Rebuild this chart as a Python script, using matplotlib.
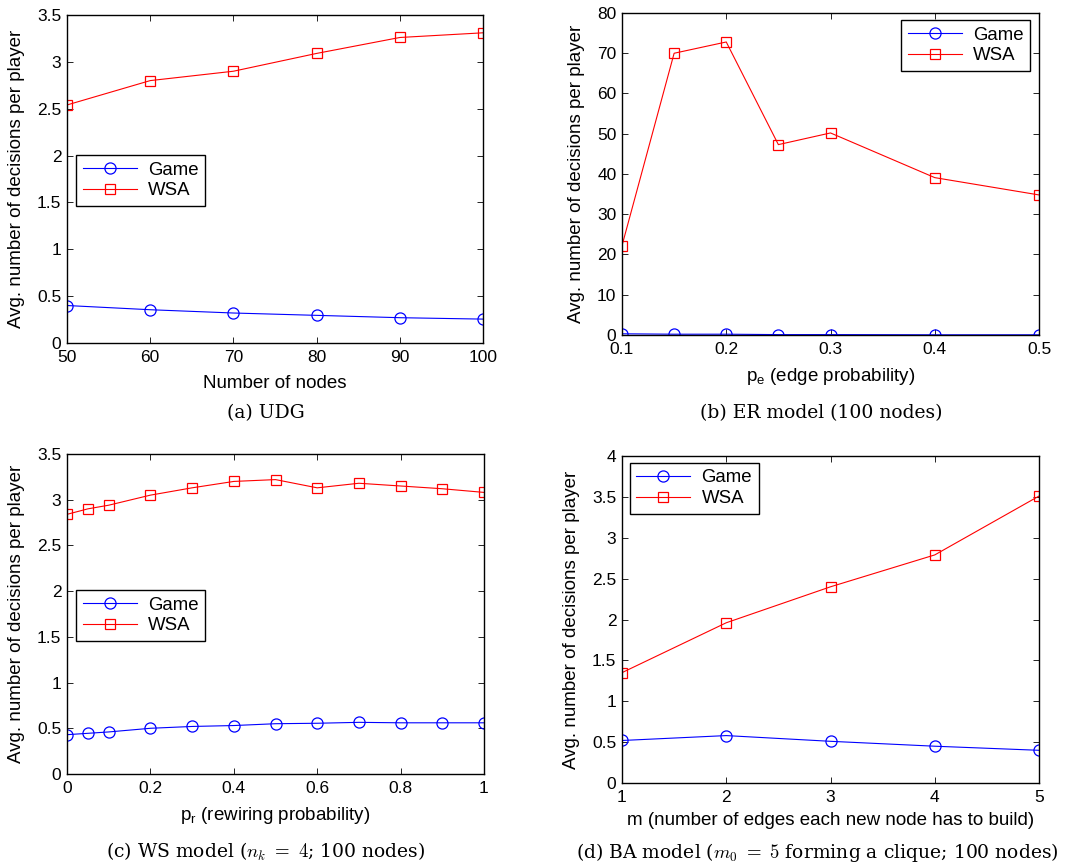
import matplotlib
matplotlib.use('Agg')
import matplotlib.pyplot as plt

plt.rcParams['font.family'] = ['Liberation Sans', 'DejaVu Sans']
plt.rcParams['mathtext.fontset'] = 'cm'
plt.rcParams['xtick.direction'] = 'in'
plt.rcParams['ytick.direction'] = 'in'
plt.rcParams['xtick.top'] = True
plt.rcParams['ytick.right'] = True

# (a) UDG
udg_x = [50, 60, 70, 80, 90, 100]
udg_game = [0.40, 0.355, 0.32, 0.295, 0.27, 0.255]
udg_wsa = [2.54, 2.80, 2.90, 3.09, 3.26, 3.31]

# (b) ER model
er_x = [0.1, 0.15, 0.2, 0.25, 0.3, 0.4, 0.5]
er_game = [0.3, 0.2, 0.2, 0.1, 0.1, 0.05, 0.05]
er_wsa = [22.2, 70.0, 72.8, 47.3, 50.2, 39.1, 34.8]

# (c) WS model
ws_x = [0, 0.05, 0.1, 0.2, 0.3, 0.4, 0.5, 0.6, 0.7, 0.8, 0.9, 1.0]
ws_game = [0.43, 0.445, 0.46, 0.50, 0.52, 0.53, 0.55, 0.555, 0.565, 0.56, 0.56, 0.56]
ws_wsa = [2.84, 2.90, 2.94, 3.05, 3.13, 3.20, 3.22, 3.13, 3.18, 3.15, 3.12, 3.08]

# (d) BA model
ba_x = [1, 2, 3, 4, 5]
ba_game = [0.52, 0.58, 0.51, 0.45, 0.40]
ba_wsa = [1.35, 1.96, 2.40, 2.79, 3.51]

W, H = 1066, 867
fig = plt.figure(figsize=(W / 100, H / 100), dpi=100)


def px_axes(l, t, r, b):
    return fig.add_axes([l / W, (H - b) / H, (r - l) / W, (b - t) / H])


def draw(ax, x, game, wsa, xlabel, xticks, yticks, ylim, loc, anchor, xlabel_y, ylabel_x):
    ax.plot(x, game, color='blue', marker='o', markersize=8, mfc='none',
            mew=0.9, lw=0.8, label='Game')
    ax.plot(x, wsa, color='red', marker='s', markersize=7.5, mfc='none',
            mew=0.9, lw=0.8, label='WSA')
    ax.set_xlim(x[0], x[-1])
    ax.set_ylim(*ylim)
    ax.set_xticks(xticks)
    ax.set_yticks(yticks)
    ax.set_xticklabels([('%g' % v) for v in xticks])
    ax.set_yticklabels([('%g' % v) for v in yticks])
    ax.tick_params(labelsize=12.5, length=4, width=0.6)
    ax.tick_params(axis='x', pad=5)
    ax.tick_params(axis='y', pad=4)
    for s in ax.spines.values():
        s.set_linewidth(1.0)
    ax.set_xlabel(xlabel, fontsize=13.5)
    ax.xaxis.set_label_coords(0.5, xlabel_y)
    ax.set_ylabel('Avg. number of decisions per player', fontsize=13.5)
    ax.yaxis.set_label_coords(ylabel_x, 0.5)
    leg = ax.legend(loc=loc, bbox_to_anchor=anchor, borderaxespad=0,
                    fontsize=13.4, handlelength=2.9,
                    fancybox=False, framealpha=1, edgecolor='black',
                    borderpad=0.35, labelspacing=0.2, handletextpad=0.6)
    leg.get_frame().set_linewidth(1.0)
    return ax


ax1 = px_axes(67, 15, 483, 343)
draw(ax1, udg_x, udg_game, udg_wsa, 'Number of nodes',
     [50, 60, 70, 80, 90, 100], [0, 0.5, 1, 1.5, 2, 2.5, 3, 3.5], (0, 3.5),
     'lower left', (0.022, 0.418), -0.098, -0.101)

ax2 = px_axes(622, 13, 1039, 335)
draw(ax2, er_x, er_game, er_wsa, r'$\mathregular{p_e}$ (edge probability)',
     [0.1, 0.2, 0.3, 0.4, 0.5], list(range(0, 81, 10)), (0, 80),
     'upper right', (0.978, 0.978), -0.095, -0.089)

ax3 = px_axes(67, 454, 484, 774)
draw(ax3, ws_x, ws_game, ws_wsa, r'$\mathregular{p_r}$ (rewiring probability)',
     [0, 0.2, 0.4, 0.6, 0.8, 1], [0, 0.5, 1, 1.5, 2, 2.5, 3, 3.5], (0, 3.5),
     'lower left', (0.022, 0.416), -0.098, -0.10)

ax4 = px_axes(622, 456, 1039, 783)
draw(ax4, ba_x, ba_game, ba_wsa, 'm (number of edges each new node has to build)',
     [1, 2, 3, 4, 5], [0, 0.5, 1, 1.5, 2, 2.5, 3, 3.5, 4], (0, 4),
     'upper left', (0.019, 0.979), -0.088, -0.10)

cap = dict(fontsize=13.5, family=['DejaVu Serif'], va='center')
fig.text(266 / W, 1 - 413 / H, '(a) UDG', ha='center', **cap)
fig.text(821 / W, 1 - 413 / H, '(b) ER model (100 nodes)', ha='center', **cap)
fig.text(266 / W, 1 - 852 / H, r'(c) WS model ($n_k\ =\ 4$; 100 nodes)', ha='center', **cap)
fig.text(576 / W, 1 - 852 / H, r'(d) BA model ($m_0\ =\ 5$ forming a clique; 100 nodes)',
         ha='left', **cap)

fig.savefig('out.png', dpi=100)
